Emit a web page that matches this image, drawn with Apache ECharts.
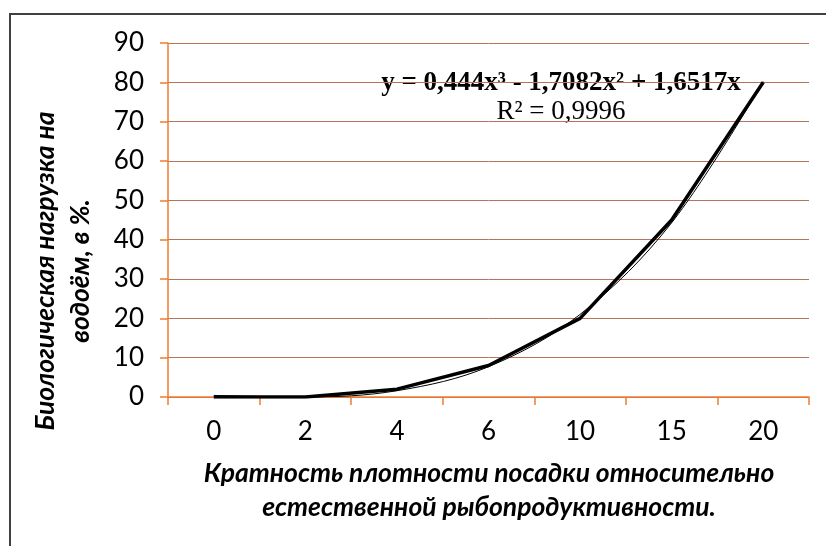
<!DOCTYPE html>
<html>
<head>
<meta charset="utf-8">
<script src="https://cdn.jsdelivr.net/npm/echarts@6/dist/echarts.min.js"></script>
<style>
html,body{margin:0;padding:0;background:#fff;}
#c{width:826px;height:546px;}
</style>
</head>
<body>
<div id="c"></div>
<script>
var categories = ['0', '2', '4', '6', '10', '15', '20'];
var loadValues = [0, 0, 2, 8, 20, 45, 80];
var trendValues = [0.4, 0, 1.6, 7.7, 21, 44.3, 80.2];
var yTicks = {min: 0, max: 90, interval: 10};
var xTitleLines = ['Кратность плотности посадки относительно', 'естественной рыбопродуктивности.'];
var yTitleLines = ['Биологическая нагрузка на', 'водоём, в %.'];
var equationText = 'y = 0,444x³ - 1,7082x² + 1,6517x';
var r2Text = 'R² = 0,9996';

var chart = echarts.init(document.getElementById('c'));
var orange = '#ED7D31';
chart.setOption({
  animation: false,
  backgroundColor: '#fff',
  grid: {left: 168, right: 17, top: 43, bottom: 149, containLabel: false},
  xAxis: {
    type: 'category',
    data: categories,
    boundaryGap: true,
    axisLine: {lineStyle: {color: orange, width: 1.5}},
    axisTick: {show: true, length: 8, lineStyle: {color: orange, width: 1.5}},
    axisLabel: {color: '#000', fontFamily: 'Lato', fontSize: 26, margin: 22},
    splitLine: {show: false}
  },
  yAxis: {
    type: 'value',
    min: yTicks.min, max: yTicks.max, interval: yTicks.interval,
    axisLine: {show: true, lineStyle: {color: orange, width: 1.5}},
    axisTick: {show: true, length: 8, lineStyle: {color: orange, width: 1.5}},
    axisLabel: {color: '#000', fontFamily: 'Lato', fontSize: 26, margin: 24},
    splitLine: {show: true, lineStyle: {color: '#B8735C', width: 1}}
  },
  series: [
    {
      type: 'line', data: loadValues, symbol: 'none',
      lineStyle: {color: '#000', width: 3.5}, z: 3
    },
    {
      type: 'line', data: trendValues, symbol: 'none', smooth: 0.35,
      lineStyle: {color: '#000', width: 1}, z: 4
    }
  ],
  graphic: [
    {type: 'rect', shape: {x: 10, y: 14, width: 1000, height: 700}, style: {fill: 'none', stroke: '#404040', lineWidth: 2}, z: 10},
    {type: 'text', x: 489, y: 473, style: {text: xTitleLines[0], font: 'italic bold 26.5px Lato', fill: '#000', textAlign: 'center', textVerticalAlign: 'middle'}},
    {type: 'text', x: 489, y: 507, style: {text: xTitleLines[1], font: 'italic bold 26.5px Lato', fill: '#000', textAlign: 'center', textVerticalAlign: 'middle'}},
    {type: 'text', x: 45, y: 271, rotation: Math.PI / 2, style: {text: yTitleLines[0], font: 'italic bold 26.5px Lato', fill: '#000', textAlign: 'center', textVerticalAlign: 'middle'}},
    {type: 'text', x: 80, y: 271, rotation: Math.PI / 2, style: {text: yTitleLines[1], font: 'italic bold 26.5px Lato', fill: '#000', textAlign: 'center', textVerticalAlign: 'middle'}},
    {type: 'text', x: 561, y: 83, style: {text: equationText, font: 'bold 27px "Liberation Serif"', fill: '#000', textAlign: 'center', textVerticalAlign: 'middle'}},
    {type: 'text', x: 561, y: 112, style: {text: r2Text, font: '27px "Liberation Serif"', fill: '#000', textAlign: 'center', textVerticalAlign: 'middle'}}
  ]
});
</script>
</body>
</html>
